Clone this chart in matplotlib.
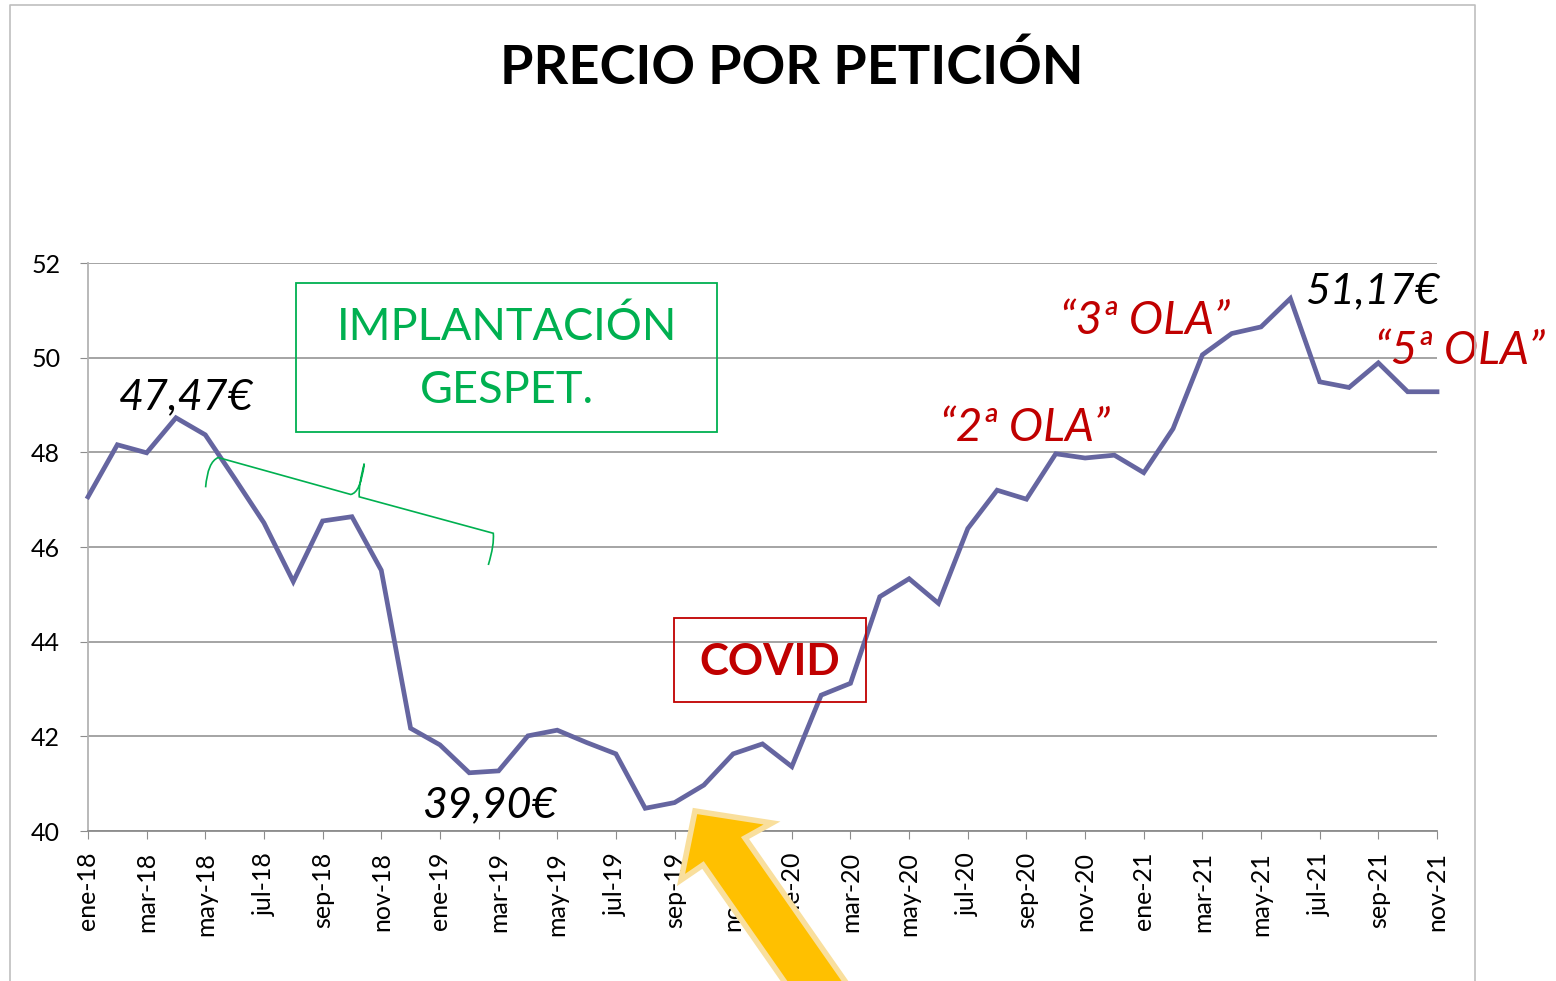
#!/usr/bin/env python3
# -*- coding: utf-8 -*-
"""
plot.py - precio por petición (ene-18 .. nov-21), recreated with matplotlib.
"""

import matplotlib
matplotlib.use("Agg")
import matplotlib.pyplot as plt
from matplotlib.patches import Rectangle, Polygon, PathPatch
from matplotlib.path import Path
from matplotlib.lines import Line2D

# --- data -------------------------------------------------------------------
meses = [
    "ene-18", "feb-18", "mar-18", "abr-18", "may-18", "jun-18", "jul-18", "ago-18",
    "sep-18", "oct-18", "nov-18", "dic-18",
    "ene-19", "feb-19", "mar-19", "abr-19", "may-19", "jun-19", "jul-19", "ago-19",
    "sep-19", "oct-19", "nov-19", "dic-19",
    "ene-20", "feb-20", "mar-20", "abr-20", "may-20", "jun-20", "jul-20", "ago-20",
    "sep-20", "oct-20", "nov-20", "dic-20",
    "ene-21", "feb-21", "mar-21", "abr-21", "may-21", "jun-21", "jul-21", "ago-21",
    "sep-21", "oct-21", "nov-21",
]

precio = [
    47.06, 48.16, 47.99, 48.73, 48.37, 47.45, 46.51, 45.27,
    46.55, 46.64, 45.51, 42.17,
    41.82, 41.23, 41.27, 42.01, 42.13, 41.87, 41.63, 40.48,
    40.60, 40.97, 41.63, 41.84,
    41.36, 42.87, 43.12, 44.95, 45.33, 44.81, 46.39, 47.20,
    47.01, 47.97, 47.88, 47.94,
    47.57, 48.50, 50.06, 50.51, 50.65, 51.25, 49.49, 49.37,
    49.89, 49.28, 49.28,
]

y_ticks = [40, 42, 44, 46, 48, 50, 52]

W, H = 1556, 981
FONT = ["Lato", "DejaVu Sans"]
LINE_COLOR = "#6565a0"
GREEN = "#00b050"
RED = "#c00000"

plt.rcParams["font.family"] = FONT


def px(x, y):
    """pixel (from top-left) -> figure fraction"""
    return x / W, 1 - y / H


fig = plt.figure(figsize=(W / 100, H / 100), dpi=100)
fig.patch.set_facecolor("white")

# outer frame of the chart object
frame = [px(10, 990), px(10, 5), px(1475, 5), px(1475, 990)]
fig.add_artist(Line2D([p[0] for p in frame], [p[1] for p in frame],
                      transform=fig.transFigure, color="#bfbfbf", lw=1.2))

fig.text(px(792, 0)[0], px(0, 68)[1], "PRECIO POR PETICIÓN", ha="center", va="center",
         fontsize=39, fontweight="bold", color="black")

ax = fig.add_axes([88 / W, 1 - 831 / H, (1437 - 88) / W, (831 - 263) / H])
x = list(range(len(meses)))
ax.plot(x, precio, color=LINE_COLOR, lw=3.4, solid_joinstyle="miter",
        clip_on=False, zorder=3)

ax.set_xlim(0, len(meses) - 1)
ax.set_ylim(40, 52)
ax.set_yticks(y_ticks)
ax.set_yticklabels([str(v) for v in y_ticks], fontsize=18)
ax.set_xticks(x[::2])
ax.set_xticklabels(meses[::2], rotation=90, fontsize=18)
ax.grid(axis="y", color="#8c8c8c", lw=1.1)
ax.set_axisbelow(True)
for s in ("top", "right"):
    ax.spines[s].set_visible(False)
ax.spines["left"].set_color("#b3b3b3")
ax.spines["bottom"].set_color("#8c8c8c")
ax.spines["left"].set_linewidth(1.3)
ax.spines["bottom"].set_linewidth(1.3)
ax.tick_params(axis="y", length=6, color="#8c8c8c", pad=14)
ax.tick_params(axis="x", length=6, color="#8c8c8c", pad=9)

# --- annotations ------------------------------------------------------------
ax.text(3.34, 49.17, "47,47€", fontsize=31, style="italic", ha="center", va="center")
ax.text(13.7, 40.55, "39,90€", fontsize=31, style="italic", ha="center", va="center")
ax.text(43.8, 51.41, "51,17€", fontsize=31, style="italic", ha="center", va="center",
        clip_on=False)
ax.text(31.94, 48.51, "“2ª OLA”", fontsize=33, style="italic", color=RED,
        ha="center", va="center")
ax.text(36.03, 50.78, "“3ª OLA”", fontsize=33, style="italic", color=RED,
        ha="center", va="center")
ax.text(46.77, 50.14, "“5ª OLA”", fontsize=33, style="italic", color=RED,
        ha="center", va="center", clip_on=False)

ax.add_patch(Rectangle((7.09, 48.43), 21.44 - 7.09, 51.58 - 48.43, fill=False,
                       ec=GREEN, lw=1.3, zorder=4))
ax.text(14.28, 50.65, "IMPLANTACIÓN", fontsize=32.5, color=GREEN, ha="center", va="center")
ax.text(14.28, 49.30, "GESPET.", fontsize=32.5, color=GREEN, ha="center", va="center")

ax.add_patch(Rectangle((19.98, 42.73), 26.52 - 19.98, 44.50 - 42.73, fill=False,
                       ec=RED, lw=1.3, zorder=4))
ax.text(23.25, 43.57, "COVID", fontsize=31.5, fontweight="bold", color=RED,
        ha="center", va="center", zorder=5)

# hand drawn brace under the 2018 drop
brace = Path(
    [(4.01, 47.26), (4.08, 47.80), (4.44, 47.89),
     (8.96, 47.11), (9.30, 47.15), (9.42, 47.76),
     (9.22, 47.30), (9.25, 47.06),
     (13.82, 46.29), (13.86, 46.05), (13.65, 45.62)],
    [Path.MOVETO, Path.CURVE3, Path.CURVE3,
     Path.LINETO, Path.CURVE3, Path.CURVE3,
     Path.CURVE3, Path.CURVE3,
     Path.LINETO, Path.CURVE3, Path.CURVE3])
ax.add_patch(PathPatch(brace, fill=False, ec=GREEN, lw=1.2, zorder=4))

# big yellow arrow pointing at the covid start
arrow_px = [(695, 811), (772, 823), (745, 838), (868, 1014),
            (807, 1014), (703, 865), (681, 880)]
fig.add_artist(Polygon([px(*p) for p in arrow_px], closed=True,
                       transform=fig.transFigure, fc="#ffc000", ec="#f9df9d",
                       lw=4, joinstyle="miter", zorder=10))

fig.savefig("out.png", dpi=100, facecolor="white")
